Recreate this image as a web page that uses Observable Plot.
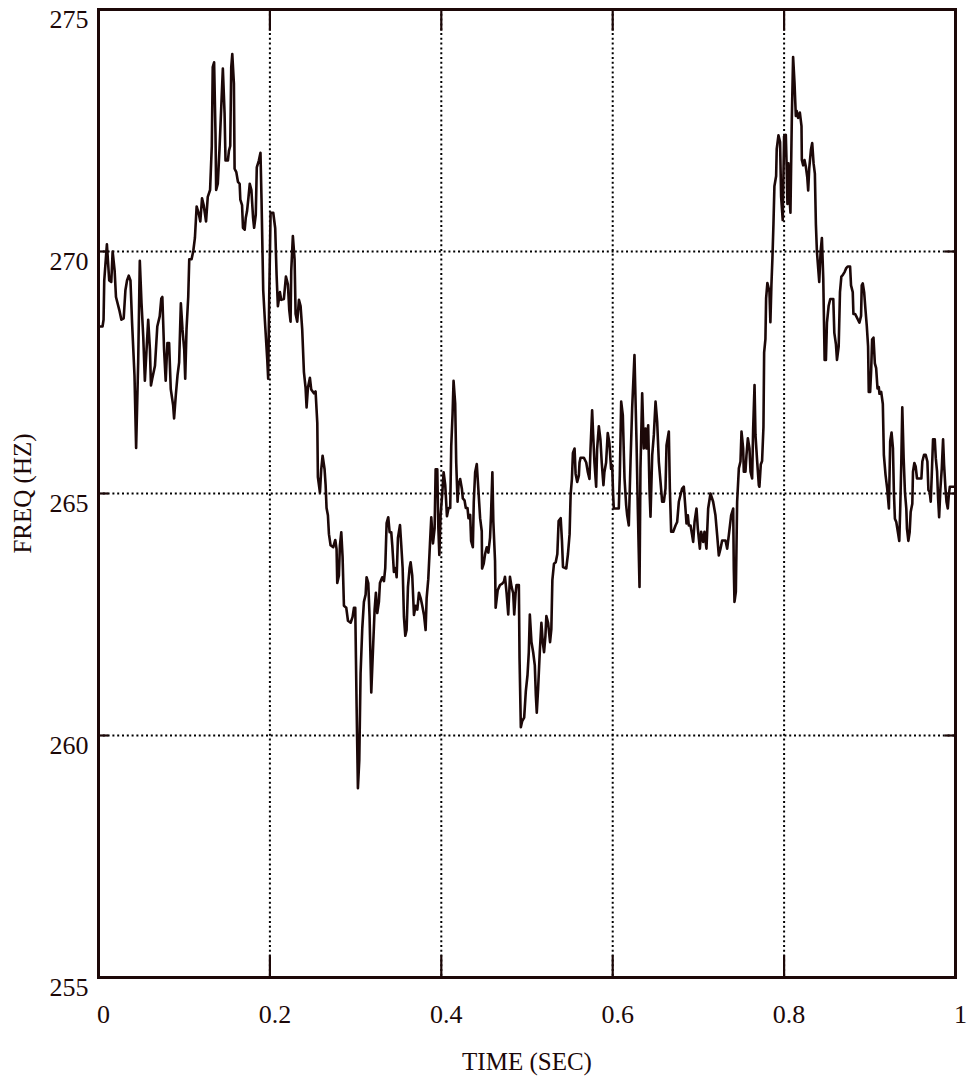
<!DOCTYPE html>
<html>
<head>
<meta charset="utf-8">
<script src="https://cdn.jsdelivr.net/npm/d3@7"></script>
<script src="https://cdn.jsdelivr.net/npm/@observablehq/plot@0.6"></script>
<style>
  html, body { margin: 0; padding: 0; background: #fff; }
  #chart { width: 974px; height: 1077px; }
</style>
</head>
<body>
<div id="chart"></div>
<script>
// Time axis (seconds)
const time = [
  0, 0.0047, 0.0059, 0.0067, 0.0098, 0.0125, 0.0149, 0.0165, 0.0188, 0.0204,
  0.0243, 0.0267, 0.0294, 0.0314, 0.0333, 0.0353, 0.0373, 0.0392, 0.042, 0.0439,
  0.0463, 0.0482, 0.0502, 0.0522, 0.0541, 0.0561, 0.058, 0.06, 0.0612, 0.0627,
  0.0659, 0.0686, 0.0714, 0.0733, 0.0745, 0.0765, 0.0784, 0.0804, 0.0824, 0.0843,
  0.0871, 0.0882, 0.0902, 0.0922, 0.0941, 0.0961, 0.098, 0.1, 0.1012, 0.1027,
  0.1047, 0.1059, 0.1086, 0.1106, 0.1125, 0.1145, 0.1169, 0.1188, 0.1208, 0.1227,
  0.1255, 0.1275, 0.1302, 0.1322, 0.1333, 0.1349, 0.1365, 0.1373, 0.1392, 0.1412,
  0.1431, 0.1451, 0.1471, 0.1482, 0.151, 0.1522, 0.1537, 0.1549, 0.1561, 0.158,
  0.1588, 0.1608, 0.1627, 0.1647, 0.1655, 0.1675, 0.1686, 0.1706, 0.1718, 0.1733,
  0.1749, 0.1765, 0.1784, 0.1804, 0.1816, 0.1835, 0.1847, 0.1871, 0.189, 0.1902,
  0.1922, 0.1941, 0.1969, 0.198, 0.1992,
  0.2008, 0.2039, 0.2062, 0.2078, 0.2093, 0.2117, 0.2132, 0.2163, 0.2187, 0.221,
  0.2226, 0.2241, 0.2249, 0.2268, 0.2288, 0.23, 0.2319, 0.2339, 0.2358, 0.2377,
  0.2397, 0.2416, 0.2428, 0.2444, 0.2467, 0.2482, 0.2514, 0.2533, 0.2553, 0.256,
  0.2584, 0.2599, 0.2615, 0.2638, 0.265, 0.2661, 0.2677, 0.2689, 0.2708, 0.2739,
  0.2763, 0.2778, 0.2786, 0.2805, 0.2817, 0.2833, 0.2848, 0.2864, 0.2891, 0.2911,
  0.2942, 0.2965, 0.2981, 0.2996, 0.3004, 0.3012, 0.3027, 0.3043, 0.3058, 0.3078,
  0.3097, 0.3117, 0.3128, 0.3148, 0.3163, 0.3183, 0.3206, 0.3222, 0.3237, 0.3253,
  0.3272, 0.3284, 0.3311, 0.3331, 0.3346, 0.3362, 0.3381, 0.3397, 0.3416, 0.3428,
  0.3447, 0.3467, 0.3479, 0.3494, 0.3518, 0.3533, 0.3549, 0.3564, 0.358, 0.3595,
  0.3611, 0.363, 0.3642, 0.3661, 0.3681, 0.37, 0.372, 0.3739, 0.3759, 0.3778,
  0.3798, 0.3817, 0.3829, 0.3848, 0.3868, 0.3883, 0.3903, 0.3922, 0.3934, 0.3953,
  0.3965, 0.3977, 0.3992,
  0.4012, 0.4027, 0.4046, 0.4066, 0.4085, 0.4104, 0.4116, 0.4132, 0.4143, 0.4162,
  0.4174, 0.419, 0.4201, 0.422, 0.424, 0.4251, 0.4271, 0.4286, 0.4306, 0.4317,
  0.4337, 0.4348, 0.4368, 0.4379, 0.4395, 0.4414, 0.4433, 0.4453, 0.4472, 0.4476,
  0.4495, 0.4511, 0.453, 0.4549, 0.4569, 0.458, 0.4596, 0.4607, 0.4627, 0.4634,
  0.4658, 0.4685, 0.4712, 0.4731, 0.4743, 0.4762, 0.4781, 0.4801, 0.482, 0.4839,
  0.4851, 0.4867, 0.4878, 0.4905, 0.4913, 0.4928, 0.4944, 0.4967, 0.4986, 0.5006,
  0.5021, 0.5033, 0.5052, 0.5072, 0.5091, 0.5103, 0.5114, 0.513, 0.5149, 0.5168,
  0.5184, 0.5199, 0.5215, 0.5226, 0.5246, 0.5269, 0.5284, 0.5296, 0.5315, 0.5335,
  0.5354, 0.5369, 0.5393, 0.5408, 0.542, 0.5458, 0.5478, 0.5497, 0.5509, 0.5524,
  0.5536, 0.5555, 0.5567, 0.5586, 0.5605, 0.5613, 0.5625, 0.5663, 0.5691, 0.571,
  0.5729, 0.5741, 0.576, 0.5772, 0.5787, 0.5807, 0.5818, 0.5838, 0.5857, 0.5872,
  0.5892, 0.5903, 0.5923, 0.5942, 0.5961, 0.5981,
  0.5994, 0.6005, 0.6013, 0.6071, 0.6083, 0.6099, 0.6118, 0.6138, 0.6157, 0.6169,
  0.6188, 0.6208, 0.6227, 0.6254, 0.6278, 0.6293, 0.6313, 0.6324, 0.6344, 0.6363,
  0.6383, 0.6394, 0.6414, 0.6429, 0.6441, 0.6461, 0.648, 0.65, 0.6519, 0.6538,
  0.6558, 0.6577, 0.6597, 0.6616, 0.6628, 0.6655, 0.6667, 0.6682, 0.6706, 0.6733,
  0.6752, 0.6772, 0.6791, 0.681, 0.683, 0.6849, 0.6861, 0.6877, 0.6888, 0.6908,
  0.6927, 0.6939, 0.6955, 0.6978, 0.6993, 0.7017, 0.7032, 0.7056, 0.7071, 0.7094,
  0.7114, 0.7141, 0.7172, 0.7199, 0.7219, 0.7238, 0.7258, 0.7277, 0.7316, 0.7336,
  0.7355, 0.7382, 0.7406, 0.7413, 0.7421, 0.7437, 0.7452, 0.7472, 0.7491, 0.7503,
  0.7522, 0.753, 0.7549, 0.7561, 0.7577, 0.7596, 0.7608, 0.7627, 0.7639, 0.7655,
  0.7666, 0.7686, 0.7705,
  0.7712, 0.7728, 0.7743, 0.7759, 0.7767, 0.7782, 0.779, 0.7805, 0.7829, 0.784,
  0.7852, 0.7864, 0.7876, 0.7887, 0.7907, 0.7914, 0.7934, 0.7953, 0.7965, 0.7984,
  0.8, 0.802, 0.8031, 0.8039, 0.8051, 0.8059, 0.8074, 0.809, 0.8105, 0.8121,
  0.8137, 0.8148, 0.8164, 0.8184, 0.8203, 0.8207, 0.8223, 0.8238, 0.8254, 0.827,
  0.8281, 0.8293, 0.8313, 0.8328, 0.8344, 0.8359, 0.8371, 0.8383, 0.8395, 0.841,
  0.8426, 0.8441, 0.8457, 0.8473, 0.8488, 0.85, 0.852, 0.8539, 0.8574, 0.8586,
  0.8605, 0.8617, 0.8637, 0.8652, 0.8668, 0.8684, 0.8707, 0.8723, 0.8742, 0.877,
  0.8781, 0.8801, 0.8809, 0.8828, 0.884, 0.8859, 0.8879, 0.8898, 0.8906, 0.8918,
  0.8934, 0.8949, 0.8965, 0.898, 0.8988, 0.9004, 0.9016, 0.9027, 0.9043, 0.9059,
  0.9074, 0.909, 0.9105, 0.9113, 0.9133, 0.9152, 0.9164, 0.9184, 0.9203, 0.9223,
  0.9238, 0.9254, 0.927, 0.9281, 0.9293, 0.9309, 0.9328, 0.9344, 0.9355, 0.9367,
  0.9379, 0.9395, 0.941, 0.9426, 0.9434, 0.945, 0.9465, 0.9477, 0.9496, 0.9504,
  0.952, 0.9535, 0.9551, 0.9574, 0.9602, 0.9613, 0.9633, 0.9652, 0.9672, 0.9684,
  0.9699, 0.9711, 0.9723, 0.9738, 0.9758, 0.977, 0.9785, 0.9797, 0.9809, 0.9824,
  0.984, 0.9855, 0.9867, 0.9883, 0.9895, 0.991, 0.9922, 0.9934, 0.9965, 0.9988,
  1.0
];

// Frequency (Hz)
const freq = [
  268.45, 268.45, 268.59, 269.40, 270.15, 269.40, 269.37, 270.0, 269.61, 269.06,
  268.79, 268.59, 268.62, 269.2, 269.4, 269.5, 269.4, 268.52, 267.44, 265.94,
  267.71, 269.81, 268.93, 268.25, 267.33, 267.98, 268.59, 267.98, 267.23, 267.37,
  267.64, 268.45, 268.66, 269.03, 269.06, 267.98, 267.33, 268.11, 268.11, 267.16,
  266.82, 266.55, 267.03, 267.44, 267.71, 268.93, 268.39, 267.98, 267.37, 268.39,
  269.06, 269.84, 269.84, 270.01, 270.28, 270.93, 270.79, 270.62, 271.1, 270.96,
  270.62, 271.13, 271.27, 272.18, 273.81, 273.91, 272.46, 271.27, 271.4, 272.12,
  272.93, 273.78, 272.86, 271.88, 271.88, 272.08, 272.18, 273.81, 274.08, 273.47,
  271.71, 271.64, 271.44, 271.4, 271.07, 270.96, 270.49, 270.45, 270.69, 270.83,
  271.1, 271.4, 271.27, 270.69, 270.49, 270.76, 271.74, 271.88, 272.04, 271.1,
  269.2, 268.59, 267.77, 267.37, 269.06,
  270.8, 270.8, 270.48, 269.52, 268.87, 269.16, 269.0, 269.02, 269.48, 269.32,
  268.79, 268.55, 269.6, 270.32, 269.84, 268.71, 268.55, 269.0, 268.87, 268.39,
  267.51, 267.19, 266.78, 267.19, 267.39, 267.15, 267.07, 267.11, 266.46, 265.34,
  265.02, 265.5, 265.78, 265.5, 265.18, 264.7, 264.55, 264.16, 263.93, 263.89,
  264.04, 263.85, 263.15, 263.3, 263.93, 264.2, 263.69, 262.68, 262.64, 262.37,
  262.33, 262.45, 262.64, 262.64, 261.59, 260.58, 258.91, 259.49, 261.28, 262.22,
  262.76, 262.91, 263.27, 263.15, 262.45, 260.89, 261.91, 262.6, 262.95, 262.53,
  262.76, 263.15, 263.27, 263.19, 263.46, 264.39, 264.51, 264.2, 264.2, 263.93,
  263.38, 263.46, 263.27, 264.08, 264.35, 263.93, 263.46, 262.45, 262.06, 262.18,
  263.07, 263.46, 263.58, 263.3, 262.49, 262.68, 262.6, 262.95, 262.84, 262.68,
  262.49, 262.18, 262.84, 263.23, 263.97, 264.51, 263.97, 264.28, 265.5, 265.5,
  264.32, 263.73, 264.55,
  265.02, 265.44, 265.17, 264.53, 264.7, 264.7, 265.98, 266.66, 267.33, 266.86,
  265.64, 264.83, 265.17, 265.3, 265.1, 264.9, 264.86, 264.7, 264.7, 264.49,
  264.56, 264.02, 263.89, 264.83, 265.44, 265.61, 265.07, 264.49, 264.22, 263.45,
  263.55, 263.75, 263.89, 263.78, 264.09, 264.56, 265.44, 264.43, 263.61, 262.64,
  263.0, 263.11, 263.14, 263.18, 263.28, 262.94, 262.5, 263.28, 263.07, 262.94,
  262.5, 262.94, 263.11, 263.11, 261.59, 260.17, 260.3, 260.37, 260.91, 261.25,
  261.72, 262.5, 261.93, 261.72, 261.45, 260.84, 260.47, 260.98, 261.72, 262.33,
  261.93, 261.72, 262.06, 262.47, 262.33, 261.93, 262.2, 263.21, 263.55, 263.58,
  263.75, 264.43, 264.49, 264.02, 263.48, 263.45, 263.75, 264.16, 264.97, 265.3,
  265.84, 265.93, 265.41, 265.24, 265.37, 265.64, 265.74, 265.74, 265.64, 265.44,
  265.3, 265.91, 266.72, 266.22, 265.64, 265.14, 265.91, 266.39, 266.11, 265.64,
  265.17, 265.44, 265.64, 266.25, 266.05, 265.51,
  265.59, 264.97, 264.69, 264.69, 265.38, 266.9, 266.62, 265.31, 264.76, 264.55,
  264.34, 265.66, 266.76, 267.86, 266.07, 264.69, 263.07, 265.52, 267.07, 265.93,
  266.34, 265.93, 266.41, 265.1, 264.52, 265.79, 266.21, 266.9, 266.48, 265.66,
  265.24, 264.83, 264.83, 265.1, 266.0, 266.28, 265.1, 264.21, 264.21, 264.34,
  264.41, 264.83, 264.97, 265.1, 265.14, 264.69, 264.38, 264.55, 264.34, 264.34,
  264.14, 264.0, 264.41, 264.69, 264.28, 263.86, 264.21, 264.0, 264.21, 263.86,
  264.69, 265.0, 264.83, 264.55, 264.14, 263.72, 263.86, 264.03, 264.03, 263.86,
  264.14, 264.55, 264.69, 263.45, 262.76, 262.97, 264.83, 265.52, 265.66, 266.28,
  265.93, 265.45, 265.45, 265.79, 266.14, 265.93, 265.45, 265.31, 266.34, 267.24,
  266.21, 265.66, 265.17,
  265.14, 265.6, 265.67, 266.37, 267.91, 268.19, 269.03, 269.35, 269.17, 268.54,
  269.31, 269.87, 270.58, 271.35, 271.56, 272.12, 272.4, 272.26, 271.14, 270.65,
  272.38, 272.41, 271.68, 270.98, 271.82, 271.26, 270.8, 272.73, 274.02, 273.5,
  272.8, 272.9, 272.76, 272.87, 272.59, 271.89, 271.78, 271.89, 271.75, 271.54,
  271.26, 271.71, 272.1, 272.24, 271.82, 271.61, 270.56, 270.0, 269.72, 269.37,
  270.0, 270.28, 269.44, 267.76, 267.76, 268.53, 268.88, 269.02, 269.02, 268.32,
  268.08, 267.76, 268.04, 269.16, 269.48, 269.51, 269.58, 269.65, 269.69, 269.69,
  269.3, 269.16, 268.71, 268.71, 268.67, 268.6, 268.53, 268.67, 269.3, 269.34,
  269.16, 268.81, 268.46, 268.04, 267.1, 267.1, 267.55, 268.18, 268.22, 267.69,
  267.59, 267.17, 267.2, 267.06, 267.1, 266.85, 265.8, 265.38, 265.1, 264.69,
  266.08, 266.26, 265.94, 265.03, 264.48, 264.41, 264.2, 264.02, 264.69, 265.59,
  266.78, 265.73, 265.03, 264.69, 264.27, 264.02, 264.2, 264.62, 264.79, 265.45,
  265.63, 265.56, 265.31, 265.31, 265.31, 265.66, 265.8, 265.8, 265.66, 265.07,
  265.03, 264.83, 265.38, 266.12, 266.12, 265.73, 265.45, 264.9, 264.51, 265.1,
  265.52, 266.12, 265.59, 265.1, 264.83, 264.69, 264.97, 265.14, 265.14, 265.14,
  265.14
];

// Axes
const xTicks = [0, 0.2, 0.4, 0.6, 0.8, 1];
const xTickLabels = ["0", "0.2", "0.4", "0.6", "0.8", "1"];
const yTicks = [255, 260, 265, 270, 275];
const xGrid = [0.2, 0.4, 0.6, 0.8];
const yGrid = [260, 265, 270];
const xTitle = "TIME (SEC)";
const yTitle = "FREQ (HZ)";

const data = time.map((t, i) => ({ t, v: freq[i] }));
const ink = "#1c0808";

const chart = Plot.plot({
  width: 974,
  height: 1077,
  marginLeft: 98,
  marginRight: 19,
  marginTop: 9,
  marginBottom: 100,
  x: { domain: [0, 1] },
  y: { domain: [255, 275] },
  style: {
    fontFamily: "'Liberation Serif', 'Times New Roman', serif",
    fontSize: "26px",
    color: ink,
    background: "#fff",
    overflow: "visible"
  },
  marks: [
    Plot.ruleX(xGrid, { stroke: "#000", strokeWidth: 2, strokeDasharray: "2,2.8" }),
    Plot.ruleY(yGrid, { stroke: "#000", strokeWidth: 2, strokeDasharray: "2,2.8" }),
    // short inward ticks at edges
    Plot.ruleX(xGrid, { y1: 255, y2: 255.45, stroke: ink, strokeWidth: 2.2 }),
    Plot.ruleX(xGrid, { y1: 274.55, y2: 275, stroke: ink, strokeWidth: 2.2 }),
    Plot.ruleY(yGrid, { x1: 0, x2: 0.012, stroke: ink, strokeWidth: 2.2 }),
    Plot.ruleY(yGrid, { x1: 0.988, x2: 1, stroke: ink, strokeWidth: 2.2 }),
    Plot.line(data, { x: "t", y: "v", stroke: ink, strokeWidth: 2.6 }),
    Plot.frame({ stroke: ink, strokeWidth: 3 }),
    Plot.axisX(xTicks, {
      tickSize: 0, tickPadding: 27, dx: 5, fontSize: 26,
      tickFormat: (d) => xTickLabels[xTicks.indexOf(d)],
      label: null, fill: ink
    }),
    Plot.axisY(yTicks, {
      tickSize: 0, tickPadding: 10, dy: 10, fontSize: 26,
      tickFormat: d => String(d), label: null, fill: ink
    }),
    Plot.text([xTitle], { frameAnchor: "bottom", dy: 92, textAnchor: "middle", fontSize: 25, fill: ink, text: d => d }),
    Plot.text([yTitle], { frameAnchor: "left", dx: -76, rotate: -90, textAnchor: "middle", lineAnchor: "middle", fontSize: 25, fill: ink, text: d => d })
  ]
});

document.getElementById("chart").appendChild(chart);
</script>
</body>
</html>
